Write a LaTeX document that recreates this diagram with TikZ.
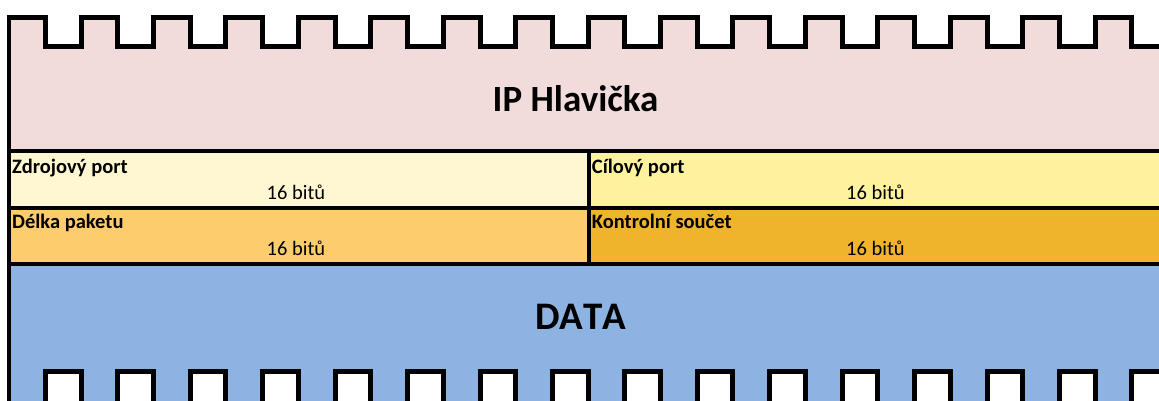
\documentclass[tikz,border=0pt]{standalone}
\usepackage{fontspec}
\setmainfont{Carlito}
\definecolor{hdrpink}{HTML}{F2DCDB}
\definecolor{cellA}{HTML}{FFF7D1}
\definecolor{cellB}{HTML}{FEF29E}
\definecolor{cellC}{HTML}{FDCC6C}
\definecolor{cellD}{HTML}{EFB42B}
\definecolor{datablue}{HTML}{8DB3E2}
\begin{document}
\begin{tikzpicture}[x=1pt,y=-1pt,
  notchline/.style={line width=5pt,line join=miter,black},
  sepline/.style={line width=4pt,black},
  lbl/.style={inner sep=0pt,anchor=base west,font=\fontsize{20.5}{24}\selectfont\bfseries},
  bits/.style={inner sep=0pt,anchor=base,font=\fontsize{20.5}{24}\selectfont},
  title/.style={inner sep=0pt,anchor=base,font=\fontsize{37}{40}\selectfont\bfseries}]
\useasboundingbox (0,0) rectangle (1159,400);
\clip (0,0) rectangle (1159,400);
% header
\fill[hdrpink] (8.5,17.5) rectangle (1175,151);
\foreach \k in {0,...,15}{
  \fill[white] ({45.5+\k*72.43},0) rectangle ({81+\k*72.43},46.5);
}
% cells
\fill[cellA] (8.5,151) rectangle (589,208);
\fill[cellB] (589,151) rectangle (1175,208);
\fill[cellC] (8.5,208) rectangle (589,263.5);
\fill[cellD] (589,208) rectangle (1175,263.5);
% data
\fill[datablue] (8.5,263.5) rectangle (1175,410);
\foreach \k in {0,...,15}{
  \fill[white] ({45.5+\k*72.43},371) rectangle ({81+\k*72.43},410);
}
% separators
\draw[sepline] (8.5,151) -- (1175,151);
\draw[sepline] (8.5,208) -- (1175,208);
\draw[sepline] (8.5,263.5) -- (1175,263.5);
\draw[sepline] (589,151) -- (589,263.5);
\draw[sepline] (8.5,15) -- (8.5,410);
% top outline
\draw[notchline] (8.5,17.5) \foreach \k in {0,...,15}{
  -- ({45.5+\k*72.43},17.5) -- ({45.5+\k*72.43},46.5) -- ({81+\k*72.43},46.5) -- ({81+\k*72.43},17.5) };
% bottom notches
\foreach \k in {0,...,15}{
  \draw[notchline] ({45.5+\k*72.43},410) -- ({45.5+\k*72.43},371) -- ({81+\k*72.43},371) -- ({81+\k*72.43},410);
}
% texts
\node[title] (ip) at (575.5,111.7) {IP Hlavička};
\node[lbl] (src) at (12,173.3) {Zdrojový port};
\node[bits] (srcb) at (296,199.3) {16 bitů};
\node[lbl] (dst) at (591.7,173.3) {Cílový port};
\node[bits] (dstb) at (875.5,199.3) {16 bitů};
\node[lbl] (len) at (12,228.3) {Délka paketu};
\node[bits] (lenb) at (296,255) {16 bitů};
\node[lbl] (chk) at (591.7,228.3) {Kontrolní součet};
\node[bits] (chkb) at (875.5,255) {16 bitů};
\node[title,font=\fontsize{39}{42}\selectfont\bfseries\addfontfeatures{Kerning=Off}] (data) at (581,329) {DATA};
\end{tikzpicture}
\end{document}
